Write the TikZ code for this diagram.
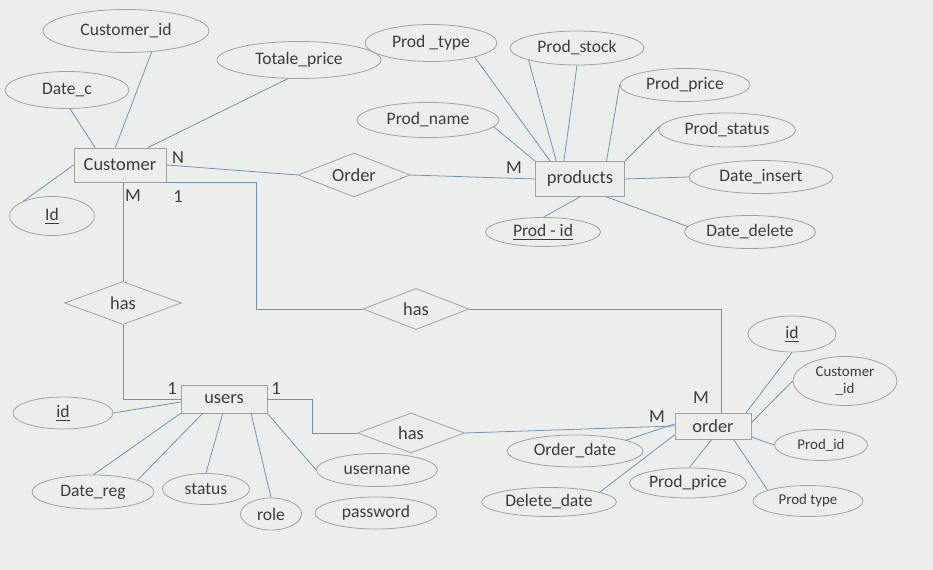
\documentclass[tikz,border=0pt]{standalone}
\usepackage{fontspec}
\setmainfont{Carlito}
\usetikzlibrary{shapes.geometric}
\definecolor{linecol}{RGB}{112,146,188}
\definecolor{shapecol}{RGB}{160,160,160}
\definecolor{textcol}{RGB}{60,60,60}
\definecolor{paper}{RGB}{236,238,236}

\begin{document}
\begin{tikzpicture}[x=0.02cm,y=-0.02cm,line width=0.45pt,
            every node/.style={text=textcol,font=\fontsize{10.5}{12}\selectfont},
            entity/.style={draw=shapecol,fill=paper,rectangle,inner sep=0pt},
            relation/.style={draw=shapecol,fill=paper,diamond,aspect=2.6,inner sep=0pt},
            attr/.style={draw=shapecol,fill=paper,ellipse,inner sep=0pt,font=\fontsize{10}{11}\selectfont},
            smallattr/.style={attr,font=\fontsize{8.5}{9.5}\selectfont},
            link/.style={draw=linecol}]
            \fill[paper] (0,0) rectangle (933,570);

            % entities
            \node[entity,minimum width=1.84cm,minimum height=0.68cm] (cust) at (120,165) {Customer};
            \node[entity,minimum width=1.78cm,minimum height=0.70cm] (prod) at (580,179) {products};
            \node[entity,minimum width=1.72cm,minimum height=0.56cm] (users) at (224,399) {users};
            \node[entity,minimum width=1.52cm,minimum height=0.52cm] (ordr) at (713,426) {order};

            % relations
            \node[relation,minimum width=2.24cm,minimum height=0.88cm] (orderrel) at (354,175) {Order};
            \node[relation,minimum width=2.34cm,minimum height=0.86cm] (hascu) at (123,303) {has};
            \node[relation,minimum width=2.12cm,minimum height=0.82cm] (hasco) at (416,309) {has};
            \node[relation,minimum width=2.14cm,minimum height=0.80cm] (hasuo) at (411,433) {has};

            % customer attributes
            \node[attr,minimum width=3.32cm,minimum height=0.86cm] (cid) at (126,31) {Customer\_id};
            \node[attr,minimum width=2.48cm,minimum height=0.74cm] (datec) at (67,90) {Date\_c};
            \node[attr,minimum width=3.28cm,minimum height=0.74cm] (tprice) at (299,60) {Totale\_price};
            \node[attr,minimum width=1.70cm,minimum height=0.78cm] (cuid) at (52,216) {\underline{Id}};

            % product attributes
            \node[attr,minimum width=2.64cm,minimum height=0.74cm] (ptype) at (431,43) {Prod \_type};
            \node[attr,minimum width=2.68cm,minimum height=0.68cm] (pstock) at (577,48) {Prod\_stock};
            \node[attr,minimum width=2.60cm,minimum height=0.66cm] (pprice) at (685,85) {Prod\_price};
            \node[attr,minimum width=2.84cm,minimum height=0.70cm] (pname) at (428,120) {Prod\_name};
            \node[attr,minimum width=2.74cm,minimum height=0.68cm] (pstatus) at (727,130) {Prod\_status};
            \node[attr,minimum width=2.88cm,minimum height=0.66cm] (dinsert) at (761,177) {Date\_insert};
            \node[attr,minimum width=2.62cm,minimum height=0.66cm] (ddelete) at (750,232) {Date\_delete};
            \node[attr,minimum width=2.30cm,minimum height=0.58cm] (pid) at (543,232) {\underline{Prod - id}};

            % user attributes
            \node[attr,minimum width=2.00cm,minimum height=0.64cm] (uid) at (63,413) {\underline{id}};
            \node[attr,minimum width=2.44cm,minimum height=0.68cm] (dreg) at (93,492) {Date\_reg};
            \node[attr,minimum width=1.74cm,minimum height=0.62cm] (ustatus) at (206,489) {status};
            \node[attr,minimum width=1.22cm,minimum height=0.64cm] (urole) at (271,514) {role};
            \node[attr,minimum width=2.42cm,minimum height=0.66cm] (uname) at (377,470) {usernane};
            \node[attr,minimum width=2.44cm,minimum height=0.64cm] (upass) at (376,513) {password};

            % order attributes
            \node[attr,minimum width=1.76cm,minimum height=0.72cm] (oid) at (792,334) {\underline{id}};
            \node[smallattr,minimum width=2.08cm,minimum height=0.98cm,align=center] (ocid) at (845,381) {Customer\\\_id};
            \node[smallattr,minimum width=1.86cm,minimum height=0.62cm] (opid) at (821,445) {Prod\_id};
            \node[smallattr,minimum width=2.20cm,minimum height=0.62cm] (optype) at (808,501) {Prod type};
            \node[attr,minimum width=2.34cm,minimum height=0.60cm] (oprice) at (688,483) {Prod\_price};
            \node[attr,minimum width=2.72cm,minimum height=0.64cm] (odate) at (575,451) {Order\_date};
            \node[attr,minimum width=2.70cm,minimum height=0.58cm] (odel) at (549,502) {Delete\_date};

            % cardinalities
            \node (cn) at (178,158) {N};
            \node (cm) at (133,196) {M};
            \node (c1) at (178,197) {1};
            \node (pm) at (514,168) {M};
            \node (u1l) at (172,389) {1};
            \node (u1r) at (276,389) {1};
            \node (om1) at (701,398) {M};
            \node (om2) at (657,417) {M};

            % attribute links
            \draw[link] (cid.321) -- (cust.105);
            \draw[link] (datec.279) -- (cust.145);
            \draw[link] (tprice.239) -- (cust.32);
            \draw[link] (cuid.153) -- (cust.west);

            \draw[link] (ptype.342) -- (prod.149);
            \draw[link] (pstock.194) -- (prod.143);
            \draw[link] (pstock.south) -- (prod.132);
            \draw[link] (pprice.west) -- (prod.34);
            \draw[link] (pname.354) -- (prod.north west);
            \draw[link] (pstatus.177) -- (prod.north east);
            \draw[link] (dinsert.west) -- (prod.east);
            \draw[link] (ddelete.175) -- (prod.326);
            \draw[link] (pid.88) -- (prod.south);

            \draw[link] (uid.east) -- (users.184);
            \draw[link] (dreg.88) -- (users.south west);
            \draw[link] (dreg.15) -- (users.214);
            \draw[link] (ustatus.north) -- (users.265);
            \draw[link] (urole.north) -- (users.332);
            \draw[link] (uname.180) -- (users.south east);

            \draw[link] (oid.south) -- (ordr.22);
            \draw[link] (ocid.west) -- (ordr.5);
            \draw[link] (opid.west) -- (ordr.344);
            \draw[link] (optype.165) -- (ordr.327);
            \draw[link] (oprice.85) -- (ordr.265);
            \draw[link] (odate.12) -- (ordr.177);
            \draw[link] (odel.11) -- (ordr.193);

            % relation links
            \draw[link] (cust.east) -- (orderrel.west);
            \draw[link] (orderrel.east) -- (prod.west);
            \draw[link] (hascu.north |- cust.south) -- (hascu.north);
            \draw[link] (hascu.south) |- (users.west);
            \draw[link] (cust.south east) -- ++(90,0) |- (hasco.west);
            \draw[link] (hasco.east) -| ([xshift=0.16cm]ordr.north);
            \draw[link] (users.east) -- ++(45,0) |- (hasuo.west);
            \draw[link] (hasuo.east) -- (ordr.west);
        \end{tikzpicture}
\end{document}
